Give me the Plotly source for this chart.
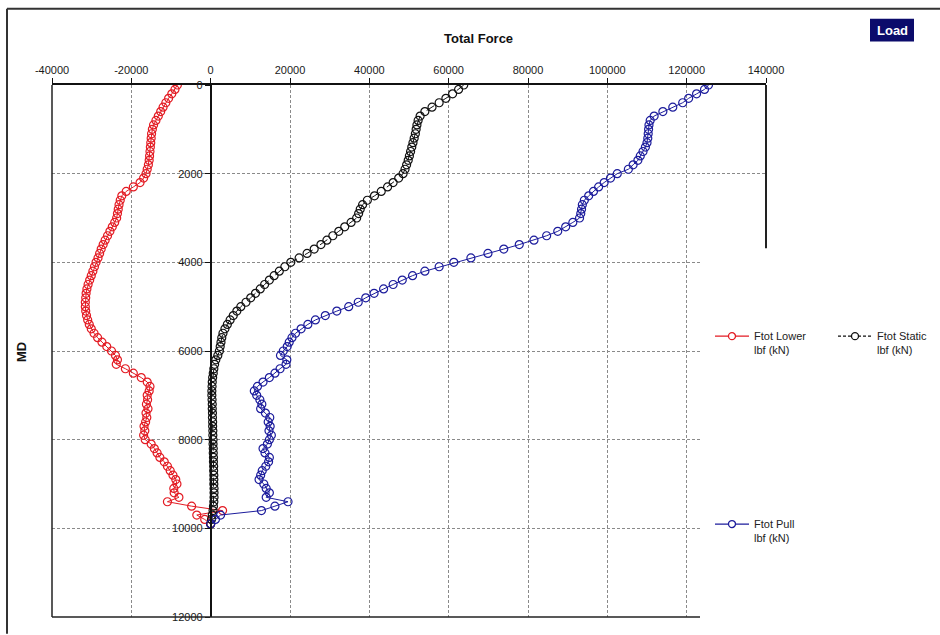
import plotly.graph_objects as go

# ---------------- data ----------------
md = [0, 100, 200, 300, 400, 500, 600, 700, 800, 900,
      1000, 1100, 1200, 1300, 1400, 1500, 1600, 1700, 1800, 1900,
      2000, 2100, 2200, 2300, 2400, 2500, 2600, 2700, 2800, 2900,
      3000, 3100, 3200, 3300, 3400, 3500, 3600, 3700, 3800, 3900,
      4000, 4100, 4200, 4300, 4400, 4500, 4600, 4700, 4800, 4900,
      5000, 5100, 5200, 5300, 5400, 5500, 5600, 5700, 5800, 5900,
      6000, 6100, 6200, 6300, 6400, 6500, 6600, 6700, 6800, 6900,
      7000, 7100, 7200, 7300, 7400, 7500, 7600, 7700, 7800, 7900,
      8000, 8100, 8200, 8300, 8400, 8500, 8600, 8700, 8800, 8900,
      9000, 9100, 9200, 9300, 9400, 9500, 9600, 9700, 9800, 9900]

ftot_lower = [-8400, -9000, -9800, -10600, -11300, -12000, -12600, -13200, -13800, -14400,
              -14700, -14900, -15000, -15100, -15200, -15300, -15400, -15500, -15700, -16000,
              -16300, -16900, -17800, -19500, -21300, -22400, -22800, -23100, -23300, -23500,
              -23700, -24200, -24800, -25400, -26000, -26600, -27100, -27600, -28000, -28400,
              -28900, -29300, -29700, -30100, -30500, -30900, -31200, -31400, -31500, -31600,
              -31600, -31500, -31300, -31000, -30600, -30100, -29400, -28500, -27400, -26200,
              -25000, -24000, -23500, -23800, -21500, -19500, -17500, -16000, -15300, -15500,
              -16000, -15900, -16200, -15800, -16300, -16100, -16400, -16800, -16600, -16900,
              -16500, -15000, -14200, -13500, -12800, -11700, -10900, -10200, -9500, -8800,
              -8500, -9300, -9200, -8000, -10900, -4800, 3000, -3500, -1500, 0]

ftot_static = [63800, 62500, 61000, 59300, 57600, 55800, 54000, 52800, 52300, 52000,
               51800, 51600, 51300, 51000, 50700, 50400, 50100, 49800, 49400, 49000,
               48500, 47400, 46000, 44600, 43000, 41300, 39500, 38300, 37700, 37300,
               36800, 35400, 33800, 32300, 30800, 29300, 27800, 26100, 24300, 22300,
               20200, 18700, 17300, 16000, 14800, 13600, 12500, 11300, 10100, 8900,
               7600, 6600, 5700, 4900, 4200, 3600, 3100, 2800, 2600, 2400,
               2200, 1800, 1300, 1000, 800, 650, 500, 400, 350, 300,
               300, 350, 400, 400, 450, 450, 500, 500, 550, 550,
               600, 600, 650, 650, 700, 700, 750, 750, 800, 800,
               800, 850, 850, 850, 800, 700, 600, 400, 200, 0]

ftot_pull = [125500, 124500, 122500, 120500, 119000, 116500, 114000, 111800, 110800, 110500,
             110400, 110300, 110200, 110000, 109600, 109000, 108300, 107700, 106500, 105300,
             102500, 100800, 99200, 97800, 96500, 95300, 94200, 93700, 93500, 93300,
             93000, 91300, 89500, 87500, 84700, 81500, 77800, 73900, 69900, 65600,
             61300, 57600, 54000, 50900, 48300, 46000, 43600, 41200, 39100, 37200,
             34800, 31800, 28900, 26400, 24500, 22800, 21400, 20500, 19800, 19300,
             18300, 17600, 19200, 19000, 17500, 16200, 14800, 13200, 11800, 11000,
             11600, 12400, 12900, 12600, 13800, 14900, 14500, 15000, 14700, 15300,
             14800, 14300, 13200, 13700, 14800, 14600, 13900, 13000, 12600, 12200,
             13400, 14000, 14800, 14000, 19500, 16200, 12800, 2500, 1200, 0]

x_ticks = [-40000, -20000, 0, 20000, 40000, 60000, 80000, 100000, 120000, 140000]
y_ticks = [0, 2000, 4000, 6000, 8000, 10000, 12000]

series_names = ["Ftot Lower<br>lbf (kN)", "Ftot Static<br>lbf (kN)", "Ftot Pull<br>lbf (kN)"]

# ---------------- layout helpers ----------------
W, H = 940, 635
L, R, T, B = 52, 766, 85, 623   # plot area pixel box


def px(x):
    return (x - L) / (R - L)


def py(y):
    return (B - y) / (B - T)


RED = "#e31b23"
BLACK = "#111111"
BLUE = "#1c1c9c"
FONT = "Liberation Sans, Arial, sans-serif"

fig = go.Figure()
fig.add_trace(go.Scatter(x=ftot_lower, y=md, mode="lines+markers", name="Ftot Lower",
                         line=dict(color=RED, width=1),
                         marker=dict(symbol="circle-open", size=8, color=RED, line=dict(width=1.2)),
                         showlegend=False))
fig.add_trace(go.Scatter(x=ftot_static, y=md, mode="lines+markers", name="Ftot Static",
                         line=dict(color=BLACK, width=1, dash="dash"),
                         marker=dict(symbol="circle-open", size=8, color=BLACK, line=dict(width=1.2)),
                         showlegend=False))
fig.add_trace(go.Scatter(x=ftot_pull, y=md, mode="lines+markers", name="Ftot Pull",
                         line=dict(color=BLUE, width=1),
                         marker=dict(symbol="circle-open", size=8, color=BLUE, line=dict(width=1.2)),
                         showlegend=False))

shapes = []
annotations = []

# outer frame
shapes.append(dict(type="line", xref="paper", yref="paper", x0=px(7), x1=px(945), y0=py(8), y1=py(8),
                   line=dict(color="#333333", width=2)))
shapes.append(dict(type="line", xref="paper", yref="paper", x0=px(7), x1=px(7), y0=py(8), y1=py(640),
                   line=dict(color="#333333", width=2)))

# white cover where the legend panel overlaps the plot area
shapes.append(dict(type="rect", xref="paper", yref="paper", x0=px(701), x1=px(770), y0=py(630), y1=py(252),
                   fillcolor="white", line=dict(width=0), layer="above"))

# plot borders
shapes.append(dict(type="line", xref="paper", yref="paper", x0=0, x1=0, y0=0, y1=1,
                   line=dict(color="#222222", width=1.5)))
shapes.append(dict(type="line", xref="paper", yref="paper", x0=0, x1=px(700), y0=0, y1=0,
                   line=dict(color="#222222", width=1.5)))
shapes.append(dict(type="line", xref="paper", yref="paper", x0=1, x1=1, y0=1, y1=py(250),
                   line=dict(color="#222222", width=2)))

# custom legend
legend_items = [
    (715, 339, RED, "solid", series_names[0]),
    (838, 339, BLACK, "dash", series_names[1]),
    (715, 529, BLUE, "solid", series_names[2]),
]
for (lx, ly, col, dash, txt) in legend_items:
    shapes.append(dict(type="line", xref="paper", yref="paper", x0=px(lx), x1=px(lx + 34),
                       y0=py(ly), y1=py(ly), line=dict(color=col, width=1.2, dash="3px,2px" if dash == "dash" else "solid")))
    shapes.append(dict(type="circle", xref="paper", yref="paper", xsizemode="pixel", ysizemode="pixel",
                       xanchor=px(lx + 17), yanchor=py(ly), x0=-3.5, x1=3.5, y0=-3.5, y1=3.5,
                       fillcolor="white", line=dict(color=col, width=1.3)))
    annotations.append(dict(xref="paper", yref="paper", x=px(lx + 37), y=py(ly - 8),
                            xanchor="left", yanchor="top", align="left", showarrow=False,
                            text=txt, font=dict(family=FONT, size=11, color="#222222")))

# titles
annotations.append(dict(xref="paper", yref="paper", x=px(478), y=py(38), text="<b>Total Force</b>",
                        xanchor="center", yanchor="middle",
                        showarrow=False, font=dict(family=FONT, size=13, color="#111111")))
annotations.append(dict(xref="paper", yref="paper", x=px(22), y=py(355), text="<b>MD</b>", textangle=-90,
                        xanchor="center", yanchor="middle",
                        showarrow=False, font=dict(family=FONT, size=13, color="#111111")))

# Load button
shapes.append(dict(type="rect", xref="paper", yref="paper", x0=px(870), x1=px(914), y0=py(41), y1=py(18),
                   fillcolor="#0b0b6b", line=dict(width=0)))
annotations.append(dict(xref="paper", yref="paper", x=px(892), y=py(29.5), text="<b>Load</b>",
                        xanchor="center", yanchor="middle",
                        showarrow=False, font=dict(family=FONT, size=13, color="white")))

fig.update_layout(
    width=W, height=H,
    margin=dict(l=L, r=W - R, t=T, b=H - B),
    paper_bgcolor="white", plot_bgcolor="white",
    font=dict(family=FONT, size=11, color="#1a1a1a"),
    shapes=shapes, annotations=annotations,
    showlegend=False,
    xaxis=dict(side="top", range=[-40000, 140000], tickvals=x_ticks,
               ticktext=[str(v) for v in x_ticks],
               showgrid=True, gridcolor="#8a8a8a", griddash="3px,2px", gridwidth=1,
               showline=True, linecolor="#111111", linewidth=1.5,
               ticks="outside", ticklen=5, tickcolor="#111111",
               zeroline=False, tickfont=dict(size=11, family=FONT, color="#1a1a1a")),
    yaxis=dict(range=[12000, 0], tickvals=y_ticks, ticktext=[str(v) for v in y_ticks],
               anchor="free", position=(0 - (-40000)) / (140000 - (-40000)),
               showgrid=True, gridcolor="#8a8a8a", griddash="3px,2px", gridwidth=1,
               showline=True, linecolor="#111111", linewidth=1.5,
               ticks="outside", ticklen=5, tickcolor="#111111",
               zeroline=False, tickfont=dict(size=11, family=FONT, color="#1a1a1a")),
)

fig.write_html("out.html",
               config={"displayModeBar": False},
               post_script="document.body.style.margin='0px';document.body.style.overflow='hidden';")
